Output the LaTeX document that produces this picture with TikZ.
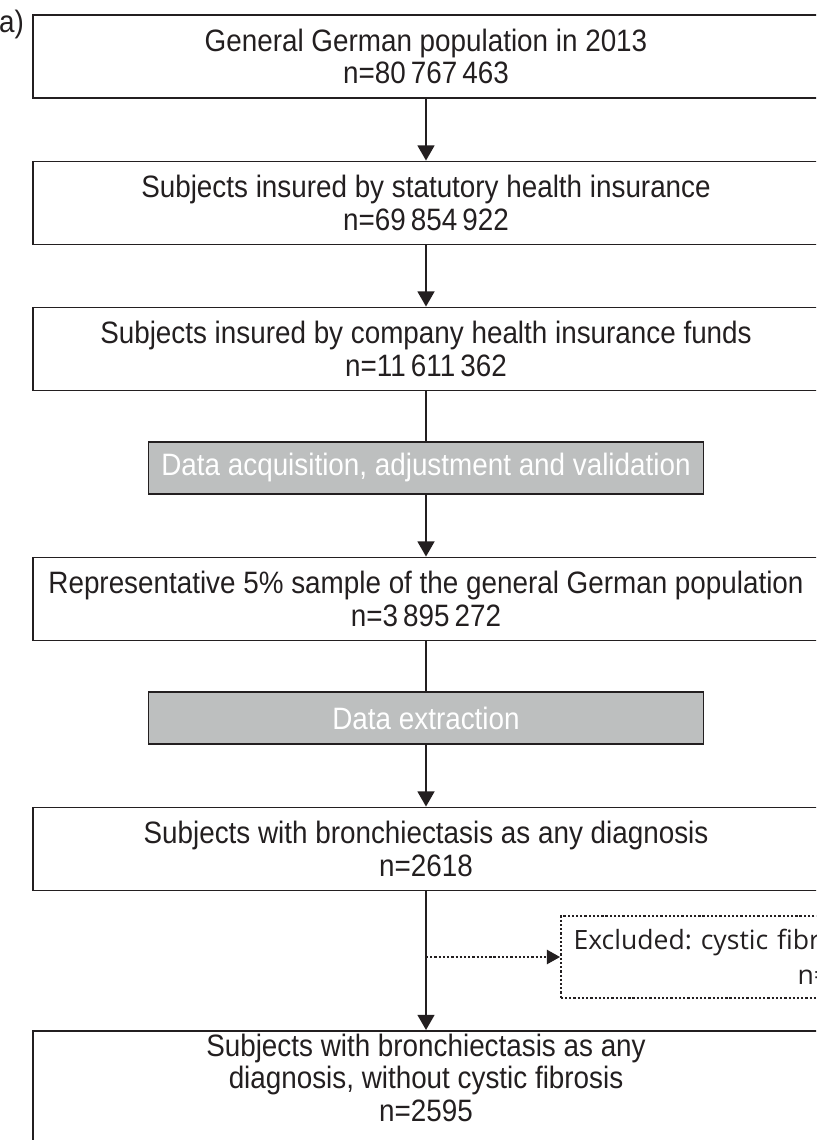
\documentclass[tikz,border=0pt]{standalone}
\usepackage{fontspec}
\setmainfont{Liberation Sans}[FakeStretch=0.9]
\newfontfamily\exclfont{Open Sans}
\usetikzlibrary{arrows.meta}
\definecolor{boxgray}{RGB}{189,191,191}
\definecolor{ink}{RGB}{35,31,32}
\frenchspacing
\begin{document}
\begin{tikzpicture}[box/.style = {draw=ink, line width=1.3pt, minimum width=19.65cm,
        minimum height=2.075cm, align=center, text=ink,
        font=\fontsize{22}{23}\selectfont},
    graybox/.style = {draw=ink, line width=1.3pt, fill=boxgray, minimum width=13.875cm,
        minimum height=1.3cm, text=white, font=\fontsize{22}{23}\selectfont},
    exclbox/.style = {draw=ink, line width=1.1pt, dash pattern=on 1.6pt off 1.4pt,
        text width=9.36cm, minimum height=2.05cm, align=left, text=ink,
        inner xsep=0.32cm, font=\exclfont\fontsize{18.9}{25}\selectfont},
    flow/.style = {draw=ink, line width=1.6pt, -{Triangle[length=0.38cm, width=0.42cm]}},
    link/.style = {draw=ink, line width=1.6pt}]
      \clip (0,0) rectangle (20.4,-28.5);
      \useasboundingbox (0,0) rectangle (20.4,-28.5);
      \node (lbl) [anchor=west, inner sep=0pt, text=ink,
        font=\fontsize{22}{23}\selectfont] at (-0.03,-0.62) {a)};
      \node (pop) [box] at (10.65,-1.4125) {General German population in 2013\\n=80\,767\,463};
      \node (shi) [box] at (10.65,-5.075) {Subjects insured by statutory health insurance\\n=69\,854\,922};
      \node (chi) [box] at (10.65,-8.725) {Subjects insured by company health insurance funds\\n=11\,611\,362};
      \node (acq) [graybox] at (10.65,-11.7) {Data acquisition, adjustment and validation};
      \node (smp) [box] at (10.65,-14.975) {Representative 5\% sample of the general German population\\n=3\,895\,272};
      \node (ext) [graybox] at (10.65,-17.95) {Data extraction};
      \node (bro) [box] at (10.65,-21.225) {Subjects with bronchiectasis as any diagnosis\\n=2618};
      \node (excl) [exclbox, anchor=west] at (14,-23.925) {Excluded: cystic fibr\\\hspace*{5.6cm}n=};
      \node (bcf) [box, anchor=north, inner ysep=0.08cm, text depth=0.95cm] at (10.65,-25.75)
        {Subjects with bronchiectasis as any\\diagnosis, without cystic fibrosis\\n=2595};
      \draw[flow] (pop) -- (shi);
      \draw[flow] (shi) -- (chi);
      \draw[link] (chi) -- (acq);
      \draw[flow] (acq) -- (smp);
      \draw[link] (smp) -- (ext);
      \draw[flow] (ext) -- (bro);
      \draw[flow] (bro) -- (bcf);
      \draw[draw=ink, line width=1.1pt, dash pattern=on 1.6pt off 1.4pt,
        -{Triangle[length=0.33cm, width=0.36cm]}] (bro.south |- excl.west) -- (excl.west);
    \end{tikzpicture}
\end{document}
